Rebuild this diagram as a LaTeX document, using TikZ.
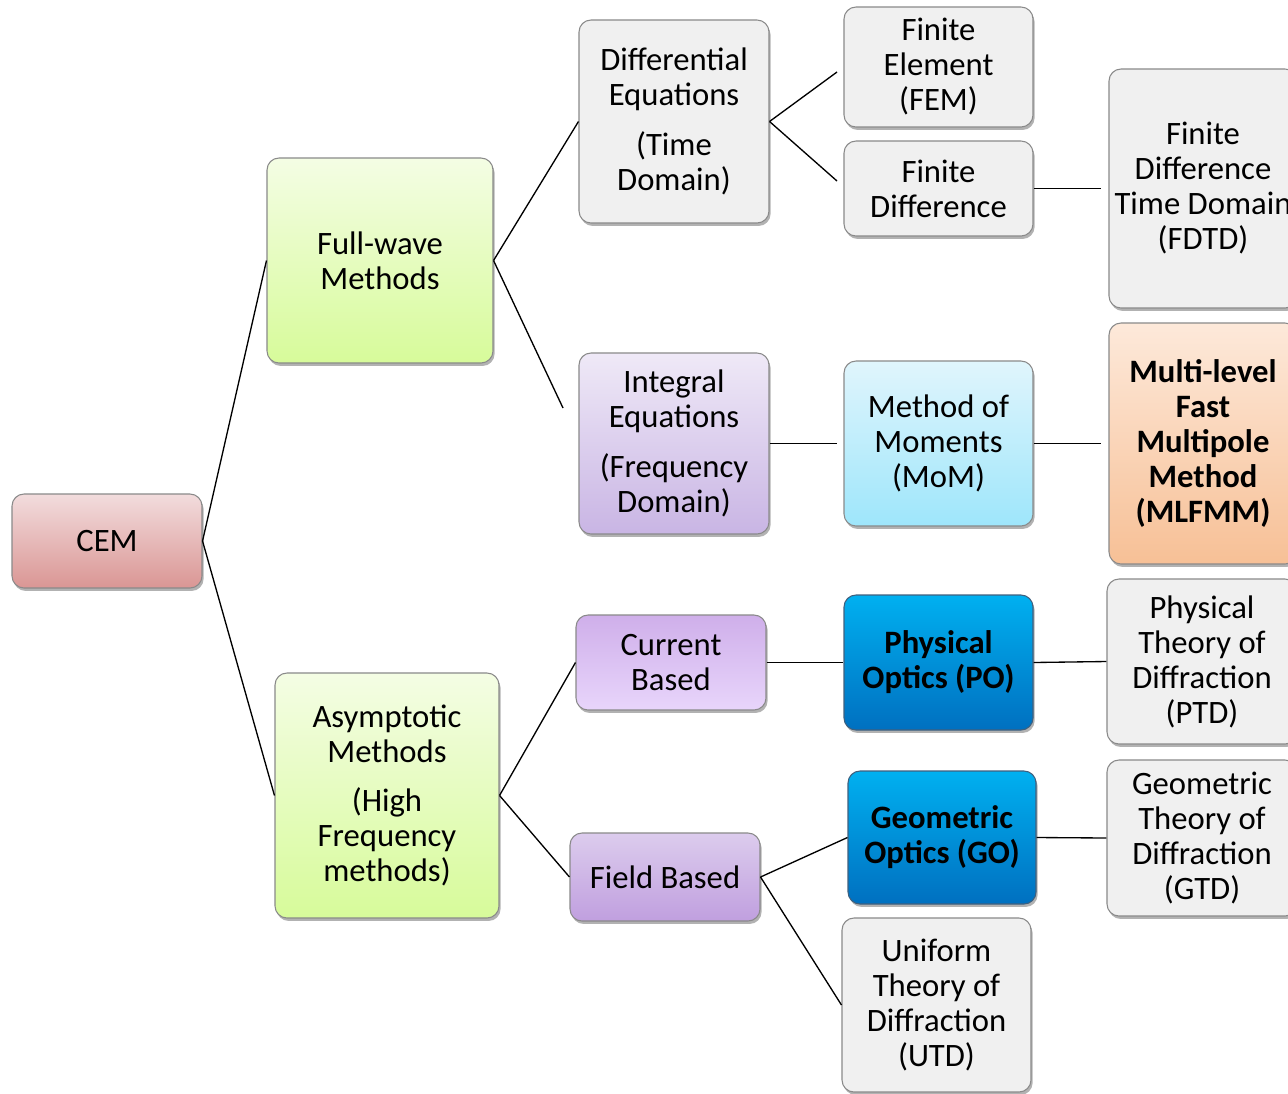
\documentclass[tikz,border=0pt]{standalone}
\usepackage{fontspec}
\setmainfont{Carlito}
\usetikzlibrary{shadows}
\newdimen\px \px=0.75pt
\definecolor{bord}{HTML}{8A8A8A}
\definecolor{grayf}{HTML}{F0F0F0}
\definecolor{cemT}{HTML}{F2DCDD}
\definecolor{cemB}{HTML}{DA9694}
\definecolor{grnT}{HTML}{F4FDE4}
\definecolor{grnB}{HTML}{D7FB9A}
\definecolor{ieT}{HTML}{EFE9F7}
\definecolor{ieB}{HTML}{C9B5E4}
\definecolor{cbT}{HTML}{CFAFEA}
\definecolor{cbM}{HTML}{E8D5FB}
\definecolor{fbT}{HTML}{DCCCED}
\definecolor{fbB}{HTML}{C09FDF}
\definecolor{momT}{HTML}{E0F5FC}
\definecolor{momB}{HTML}{9EE6FB}
\definecolor{mlT}{HTML}{FDE9DA}
\definecolor{mlB}{HTML}{F7C096}
\definecolor{blT}{HTML}{00B0F0}
\definecolor{blB}{HTML}{0070C0}
\definecolor{blBord}{HTML}{1F4E79}
\begin{document}
\begin{tikzpicture}[x=0.75pt,y=-0.75pt,
  box/.style={draw=bord, line width=0.8pt, rounded corners=12\px, align=center,
    inner sep=0pt, font=\fontsize{24.5}{26.25}\selectfont,
    drop shadow={shadow xshift=1.2pt, shadow yshift=-2.2pt, opacity=0.3, fill=black}},
  grayc/.style={fill=grayf},
  cemc/.style={top color=cemT, bottom color=cemB},
  grnc/.style={top color=grnT, bottom color=grnB},
  iec/.style={top color=ieT, bottom color=ieB},
  cbc/.style={top color=cbT, middle color=cbM, bottom color=cbM},
  fbc/.style={top color=fbT, middle color=fbT, bottom color=fbB},
  momc/.style={top color=momT, bottom color=momB},
  mlc/.style={top color=mlT, bottom color=mlB, font=\fontsize{24.5}{26.25}\selectfont\bfseries},
  blc/.style={top color=blT, middle color=blT, bottom color=blB, draw=blBord!70!bord,
    font=\fontsize{24.5}{26.25}\selectfont\bfseries},
  conn/.style={line width=1pt, black}]
\clip (0,0) rectangle (1288,1093);
\fill[white] (0,0) rectangle (1288,1093);
% nodes
\node[box, cemc, minimum width=190\px, minimum height=94\px] (cem) at (107,541) {CEM};
\node[box, grnc, minimum width=226\px, minimum height=205\px] (fw) at (380,260.5) {Full-wave\\Methods};
\node[box, grnc, minimum width=224\px, minimum height=245\px] (asy) at (387,795.5) {Asymptotic\\Methods\\[11pt](High\\Frequency\\methods)};
\node[box, grayc, minimum width=190\px, minimum height=203\px] (de) at (674,121.5) {Differential\\Equations\\[11pt](Time\\Domain)};
\node[box, iec, minimum width=190\px, minimum height=181\px] (ie) at (674,443.5) {Integral\\Equations\\[11pt](Frequency\\Domain)};
\node[box, cbc, minimum width=190\px, minimum height=95\px] (cb) at (671,662.5) {Current\\Based};
\node[box, fbc, minimum width=190\px, minimum height=88\px] (fb) at (665,877) {Field Based};
\node[box, grayc, minimum width=189\px, minimum height=120\px] (fem) at (938.5,67) {Finite\\Element\\(FEM)};
\node[box, grayc, minimum width=189\px, minimum height=95\px] (fd) at (938.5,188.5) {Finite\\Difference};
\node[box, grayc, minimum width=188\px, minimum height=239\px] (fdtd) at (1203,188.5) {Finite\\Difference\\Time Domain\\(FDTD)};
\node[box, momc, minimum width=189\px, minimum height=165\px] (mom) at (938.5,443.5) {Method of\\Moments\\(MoM)};
\node[box, mlc, minimum width=188\px, minimum height=241\px] (mlf) at (1203,443.5) {Multi-level\\Fast\\Multipole\\Method\\(MLFMM)};
\node[box, blc, minimum width=189\px, minimum height=135\px] (po) at (938.5,662.5) {Physical\\Optics (PO)};
\node[box, blc, minimum width=188\px, minimum height=133\px] (go) at (942,837.5) {Geometric\\Optics (GO)};
\node[box, grayc, minimum width=190\px, minimum height=165\px] (ptd) at (1202,661.5) {Physical\\Theory of\\Diffraction\\(PTD)};
\node[box, grayc, minimum width=190\px, minimum height=156\px] (gtd) at (1202,838) {Geometric\\Theory of\\Diffraction\\(GTD)};
\node[box, grayc, minimum width=189\px, minimum height=174\px] (utd) at (936.5,1005) {Uniform\\Theory of\\Diffraction\\(UTD)};
% free connector ends
\coordinate (ieIn) at (563,408);
\coordinate (femIn) at (837,72);
\coordinate (fdIn) at (837,181);
\coordinate (fdtdIn) at (1101,188.5);
\coordinate (momIn) at (837,443.5);
\coordinate (mlfIn) at (1101,443.5);
% connectors
\draw[conn] (cem.east) -- (fw.west);
\draw[conn] (cem.east) -- (asy.west);
\draw[conn] (fw.east) -- (de.west);
\draw[conn] (fw.east) -- (ieIn);
\draw[conn] (de.east) -- (femIn);
\draw[conn] (de.east) -- (fdIn);
\draw[conn] (fd.east) -- (fdtdIn);
\draw[conn] (ie.east) -- (momIn);
\draw[conn] (mom.east) -- (mlfIn);
\draw[conn] (asy.east) -- (cb.west);
\draw[conn] (asy.east) -- (fb.west);
\draw[conn] (cb.east) -- (po.west);
\draw[conn] (po.east) -- (ptd.west);
\draw[conn] (fb.east) -- (go.west);
\draw[conn] (fb.east) -- (utd.west);
\draw[conn] (go.east) -- (gtd.west);
\end{tikzpicture}
\end{document}
